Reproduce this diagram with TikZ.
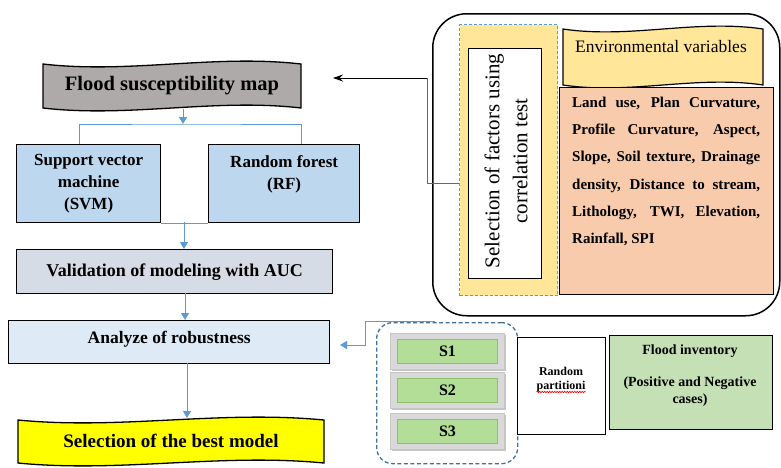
\documentclass[tikz,border=0pt]{standalone}
\usepackage{fontspec}
\setmainfont{Liberation Serif}
\usetikzlibrary{arrows.meta,decorations.pathmorphing,calc}
\definecolor{fsmgray}{HTML}{AEAAAA}
\definecolor{svmblue}{HTML}{BDD7EE}
\definecolor{valgray}{HTML}{D6DCE5}
\definecolor{anablue}{HTML}{DEEBF7}
\definecolor{selyellow}{HTML}{FFFF00}
\definecolor{envyellow}{HTML}{FFE699}
\definecolor{peach}{HTML}{F8CBAD}
\definecolor{invgreen}{HTML}{C5E0B4}
\definecolor{sgreen}{HTML}{B3DE98}
\definecolor{sgreenedge}{HTML}{8CBF6E}
\definecolor{sgray}{HTML}{D9D9D9}
\definecolor{lineblue}{HTML}{5B9BD5}
\definecolor{dashblue}{HTML}{41719C}
\newcommand\fsz[2]{\fontsize{#1}{#2}\selectfont}
\begin{document}
\begin{tikzpicture}[x=1pt,y=-1pt,
  box/.style={draw=black, line width=1.3pt, inner sep=0pt, align=center, anchor=north west},
  bl/.style={draw=lineblue, line width=1pt},
  bla/.style={bl, -{Triangle[width=8pt,length=7pt]}},
  wave/.style={draw=black, line width=1.3pt},
  btnshadow/.style={fill=gray!45, draw=none, minimum width=114pt, minimum height=36pt, anchor=north west, inner sep=0pt},
  btnout/.style={draw=gray!45, fill=sgray, line width=1pt, minimum width=114pt, minimum height=36pt, anchor=north west, inner sep=0pt},
  btnin/.style={draw=sgreenedge, fill=sgreen, line width=1.2pt, minimum width=100pt, minimum height=24pt, inner sep=0pt, font=\bfseries\fsz{16}{18}},
  invtxt/.style={font=\bfseries\fsz{14}{17}, anchor=base},
]
\useasboundingbox (0,0) rectangle (781,467);

% ---------- Left column ----------
\path[wave, fill=fsmgray] (43,64) .. controls (129,74) and (215,54) .. (301,64) -- (301,108) .. controls (215,98) and (129,118) .. (43,108) -- cycle;
\node[font=\bfseries\fsz{20.5}{24}] (fsm) at (172,86) {Flood susceptibility map};

\node[box, fill=svmblue, minimum width=144pt, minimum height=78pt, font=\bfseries\fsz{17}{22}] (svm) at (16,144) {Support vector\\machine\\(SVM)};
\node[box, fill=svmblue, minimum width=151pt, minimum height=78pt, font=\bfseries\fsz{17}{22}] (rf) at (208,144) {Random forest\\(RF)\\\phantom{X}};

\node[box, fill=valgray, minimum width=316pt, minimum height=44pt, font=\bfseries\fsz{18}{22}] (val) at (16,249) {Validation of modeling with AUC};
\node[box, fill=anablue, minimum width=321pt, minimum height=43pt, font=\bfseries\fsz{17.5}{22}] (ana) at (8,320) {\raisebox{9pt}{Analyze of robustness}};

\path[wave, fill=selyellow] (18,420) .. controls (120,430) and (220,410) .. (324,420) -- (324,463) .. controls (220,453) and (120,473) .. (18,463) -- cycle;
\node[font=\bfseries\fsz{19}{22}] (best) at (171,441) {Selection of the best model};

% connectors left
\coordinate (fsmb) at (183,109);
\coordinate (j1) at (183,124);
\coordinate (svmtop) at (79,144);
\coordinate (rftop) at (301,144);
\draw[bla] (fsmb) -- (j1);
\draw[bl] (svmtop) |- (j1) -| (rftop);
\draw[bl] (svm.south east) -- (rf.south west);
\coordinate (j2) at (184,222);
\draw[bla] (j2) -- (j2 |- val.north);
\coordinate (j3) at (185,293);
\draw[bla] (j3) -- (j3 |- ana.north);
\coordinate (j4) at (187,363);
\coordinate (j5) at (187,418);
\draw[bla] (j4) -- (j5);

% ---------- Upper right ----------
\node[draw=black, line width=1.5pt, rounded corners=34pt, minimum width=347pt, minimum height=302pt, anchor=north west, inner sep=0pt] (big) at (432,13) {};
\node[draw=lineblue, dashed, dash pattern=on 3pt off 2pt, line width=1pt, fill=envyellow, minimum width=98pt, minimum height=271pt, anchor=north west, inner sep=0pt] (selout) at (459,24) {};
\node[draw=black, line width=1pt, fill=white, minimum width=73pt, minimum height=230pt, anchor=north west, inner sep=0pt] (selin) at (468,48) {};
\node[rotate=90, align=center, font=\fsz{21}{28}] (seltxt) at (506,161) {Selection of factors using\\correlation test};

\path[wave, fill=envyellow, line width=1.2pt] (563,29) .. controls (630,39) and (696,19) .. (763,29) -- (763,85) .. controls (696,75) and (630,95) .. (563,85) -- cycle;
\node[font=\fsz{17.5}{20}] (env) at (661,47) {Environmental variables};

\node[draw=black, line width=1pt, fill=peach, minimum width=214pt, minimum height=207pt, anchor=north west, inner sep=0pt] (pbox) at (559,87) {};
\node[anchor=north west, inner sep=0pt, align=left, font=\bfseries\fsz{15}{27.3}] (vars) at (572,96.5) {%
\makebox[188pt][s]{Land use, Plan Curvature,}\\
\makebox[188pt][s]{Profile Curvature, Aspect,}\\
\makebox[188pt][s]{Slope, Soil texture, Drainage}\\
\makebox[188pt][s]{density, Distance to stream,}\\
\makebox[188pt][s]{Lithology, TWI, Elevation,}\\
\makebox[188pt][l]{Rainfall, SPI}};

\coordinate (sa) at (459,183);
\coordinate (sb) at (427,78);
\coordinate (fsmarrow) at (333,78);
\draw[gray!80!black, line width=1pt] (sa) -| (sb);
\draw[black, line width=1pt, -{Stealth[length=10pt,width=7pt]}] (sb) -- (fsmarrow);

% ---------- Lower right ----------
\node[draw=dashblue, dashed, dash pattern=on 4pt off 2.5pt, line width=1.3pt, rounded corners=16pt, minimum width=141pt, minimum height=141pt, anchor=north west, inner sep=0pt] (sgrp) at (376,322) {};

\node[btnshadow] at (392,335) {};
\node[btnout] (s1o) at (390,333) {};
\node[btnin] (s1) at (s1o.center) {S1};
\node[btnshadow] at (392,374) {};
\node[btnout] (s2o) at (390,372) {};
\node[btnin] (s2) at (s2o.center) {S2};
\node[btnshadow] at (392,415) {};
\node[btnout] (s3o) at (390,413) {};
\node[btnin] (s3) at (s3o.center) {S3};

\node[box, fill=white, line width=1.2pt, minimum width=88pt, minimum height=97pt] (rpbox) at (517,337) {};
\node[font=\bfseries\fsz{12}{14}, inner sep=0pt, anchor=base] (rp1) at (561,375) {Random};
\node[font=\bfseries\fsz{12}{14}, inner sep=0pt, anchor=base] (rp2) at (561,389) {partitioni};
\draw[red, line width=0.6pt, decorate, decoration={snake, amplitude=0.7pt, segment length=2.5pt}] ($(rp2.base west)+(0,3)$) -- ($(rp2.base east)+(0,3)$);

\node[box, fill=invgreen, line width=1.2pt, minimum width=163pt, minimum height=94pt] (inv) at (609,335) {};
\node[invtxt] (inv1) at (690,354) {Flood inventory};
\node[invtxt] (inv2) at (690,386) {(Positive and Negative};
\node[invtxt] (inv3) at (690,403) {cases)};

\coordinate (ra) at (435,321);
\coordinate (rb) at (365,345);
\coordinate (rc) at (340,345);
\draw[bla] (ra) -| (rb) -- (rc);
\end{tikzpicture}
\end{document}
